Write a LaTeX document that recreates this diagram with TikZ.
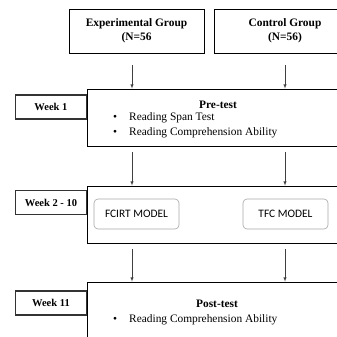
\documentclass[tikz,border=0pt]{standalone}
\usepackage{fontspec}
\setmainfont{Liberation Serif}
\newfontfamily\calib{Carlito}
\usetikzlibrary{calc,positioning}

\begin{document}
\begin{tikzpicture}[x=1pt,y=-1pt,
  grp/.style={draw, line width=0.8pt, inner sep=0pt, align=center, font=\fontsize{11.4}{14}\selectfont\bfseries},
  stage/.style={draw, line width=0.8pt, inner sep=0pt, minimum width=273pt},
  week/.style={draw=black!80, line width=1.1pt, inner sep=0pt, minimum width=71pt, minimum height=24pt, anchor=east, font=\fontsize{10.5}{12}\selectfont\bfseries},
  model/.style={draw=black!35, rounded corners=4pt, line width=0.6pt, minimum width=85pt, minimum height=30pt, font=\calib\fontsize{11.4}{13}\selectfont},
  head/.style={inner sep=0pt, font=\fontsize{11.4}{13}\selectfont\bfseries},
  item/.style={inner sep=0pt, anchor=west, font=\fontsize{11.4}{13}\selectfont},
  arr/.style={-latex, line width=0.5pt, black!75}]
\useasboundingbox (0,0) rectangle (337,337);
\clip (0,0) rectangle (337,337);
% groups
\node[grp, minimum width=135pt, minimum height=44pt] (exp) at (136.5,31) {Experimental Group\\(N=56};
\node[grp, minimum width=142pt, minimum height=44pt] (ctrl) at (285,31) {Control Group\\(N=56)};
\coordinate (colL) at (132,0);
\coordinate (colR) at (285,0);
% stages
\node[stage, minimum height=57pt] (pre) at (223.5,117.5) {};
\node[stage, minimum height=57pt] (treat) at (223.5,214.5) {};
\node[stage, minimum height=63pt] (post) at (223.5,313.5) {};
% weeks
\node[week] (w1) at (87,107) {Week 1};
\node[week] (w2) at (87,202.5) {Week 2 - 10};
\node[week] (w11) at (87,303) {Week 11};
% contents
\node[head] (pretitle) at (218,105) {Pre-test};
\node[item] (span) at (113,118) {\makebox[16pt][l]{\textbullet}Reading Span Test};
\node[item] (rca) at (113,133) {\makebox[16pt][l]{\textbullet}Reading Comprehension Ability};
\node[model] (fcirt) at (136.5,214) {FCIRT MODEL};
\node[model] (tfc) at (285.5,214) {TFC MODEL};
\node[head] (posttitle) at (217,304) {Post-test};
\node[item] (rca2) at (113,320) {\makebox[16pt][l]{\textbullet}Reading Comprehension Ability};
% arrows
\draw[arr] ($(exp.south -| colL)+(0,12)$) -- (pre.north -| colL);
\draw[arr] ($(ctrl.south -| colR)+(0,12)$) -- (pre.north -| colR);
\draw[arr] ($(pre.south -| colL)+(0,6)$) -- (treat.north -| colL);
\draw[arr] ($(pre.south -| colR)+(0,6)$) -- (treat.north -| colR);
\draw[arr] ($(treat.south -| colL)+(0,6)$) -- (post.north -| colL);
\draw[arr] ($(treat.south -| colR)+(0,6)$) -- (post.north -| colR);
\end{tikzpicture}
\end{document}
